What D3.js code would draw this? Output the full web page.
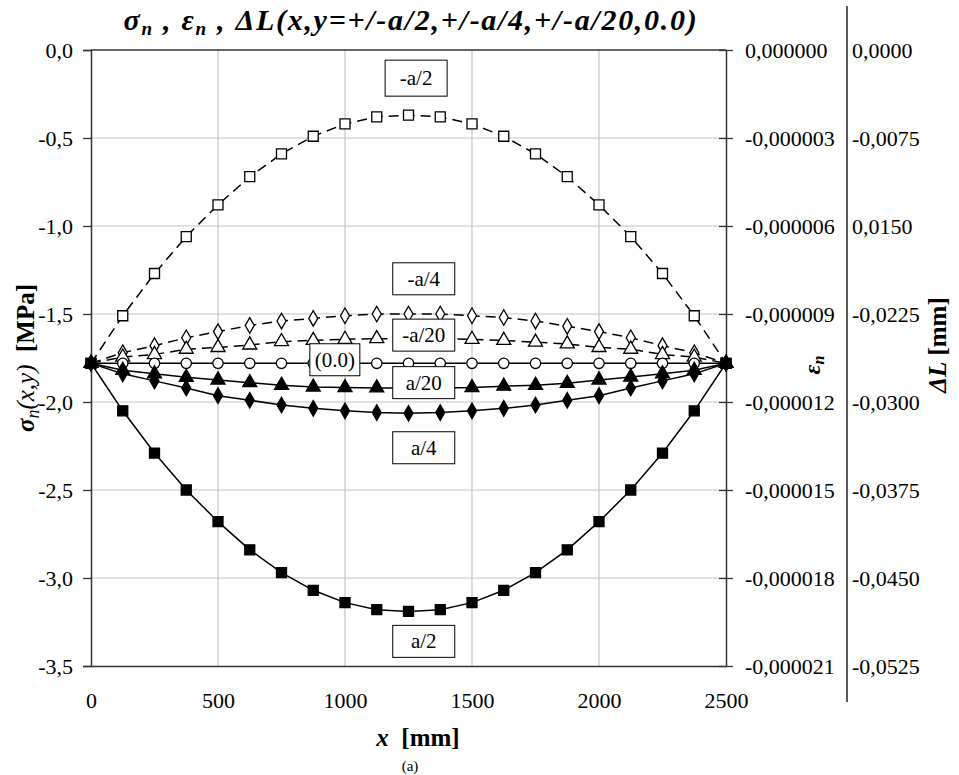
<!DOCTYPE html>
<html><head><meta charset="utf-8">
<script src="https://cdn.jsdelivr.net/npm/d3@7"></script>
<style>
body{margin:0;background:#fff;}
svg text{font-family:'Liberation Serif','Times New Roman','DejaVu Serif',serif !important;}
</style></head>
<body>
<svg id="c" width="959" height="775"></svg>
<script>
// ---- data ----
const xs = [0,125,250,375,500,625,750,875,1000,1125,1250,1375,1500,1625,1750,1875,2000,2125,2250,2375,2500];
const negA2  = [-1.78,-1.51,-1.27,-1.06,-0.88,-0.72,-0.59,-0.49,-0.42,-0.38,-0.37,-0.38,-0.42,-0.49,-0.59,-0.72,-0.88,-1.06,-1.27,-1.51,-1.78];
const negA4  = [-1.78,-1.72,-1.68,-1.635,-1.60,-1.565,-1.54,-1.525,-1.51,-1.50,-1.50,-1.50,-1.51,-1.52,-1.54,-1.57,-1.60,-1.635,-1.68,-1.72,-1.78];
const negA20 = [-1.78,-1.745,-1.73,-1.70,-1.69,-1.676,-1.657,-1.65,-1.644,-1.64,-1.64,-1.64,-1.644,-1.65,-1.66,-1.67,-1.69,-1.70,-1.73,-1.745,-1.78];
const zero   = [-1.78,-1.78,-1.78,-1.78,-1.78,-1.78,-1.78,-1.78,-1.78,-1.78,-1.78,-1.78,-1.78,-1.78,-1.78,-1.78,-1.78,-1.78,-1.78,-1.78,-1.78];
const posA20 = [-1.78,-1.82,-1.84,-1.86,-1.875,-1.89,-1.905,-1.915,-1.918,-1.92,-1.92,-1.92,-1.918,-1.91,-1.905,-1.894,-1.875,-1.858,-1.84,-1.82,-1.78];
const posA4  = [-1.78,-1.84,-1.88,-1.92,-1.964,-1.99,-2.017,-2.036,-2.05,-2.06,-2.064,-2.06,-2.05,-2.036,-2.017,-1.99,-1.964,-1.92,-1.88,-1.84,-1.78];
const posA2  = [-1.78,-2.05,-2.29,-2.50,-2.68,-2.84,-2.97,-3.07,-3.14,-3.18,-3.19,-3.18,-3.14,-3.07,-2.97,-2.84,-2.68,-2.50,-2.29,-2.05,-1.78];

const xTicks = [0,500,1000,1500,2000,2500];
const sigmaTicks = [0,-0.5,-1.0,-1.5,-2.0,-2.5,-3.0,-3.5];
const epsTicks = [0,-0.000003,-0.000006,-0.000009,-0.000012,-0.000015,-0.000018,-0.000021];
const epsLabels = ["0,000000","-0,000003","-0,000006","-0,000009","-0,000012","-0,000015","-0,000018","-0,000021"];
const dlTicks = [0,-0.0075,-0.015,-0.0225,-0.03,-0.0375,-0.045,-0.0525];
const dlLabels = ["0,0000","-0,0075","0,0150","-0,0225","-0,0300","-0,0375","-0,0450","-0,0525"];

const seriesNames = ["-a/2","-a/4","-a/20","(0.0)","a/20","a/4","a/2"];
const seriesValues = [negA2,negA4,negA20,zero,posA20,posA4,posA2];
const seriesDashed = [true,true,true,false,false,false,false];
const seriesMarker = ["square","diamond","triangle","circle","triangle","diamond","square"];
const seriesFilled = [false,false,false,false,true,true,true];
// label anchor (x in mm, y in MPa) for the boxed series names
const labelX = [1280,1310,1310,960,1310,1310,1310];
const labelY = [-0.16,-1.30,-1.62,-1.76,-1.89,-2.26,-3.36];

// ---- layout ----
const FONT = "'Liberation Serif','Times New Roman','DejaVu Serif',serif";
const svg = d3.select("#c");
const L = 91, R = 726, T = 50, B = 666;
const x = d3.scaleLinear().domain([0,2500]).range([L,R]);
const y = d3.scaleLinear().domain([0,-3.5]).range([T,B]);
const yEps = d3.scaleLinear().domain([0,-0.000021]).range([T,B]);
const yDL = d3.scaleLinear().domain([0,-0.0525]).range([T,B]);

// grid
const grid = svg.append("g");
grid.selectAll("line.gx").data(xTicks.slice(1,-1)).enter().append("line")
  .attr("x1",d=>x(d)).attr("x2",d=>x(d)).attr("y1",T).attr("y2",B)
  .attr("stroke","#c4c4c4").attr("stroke-width",1.2);
grid.selectAll("line.gy").data(sigmaTicks.slice(1,-1)).enter().append("line")
  .attr("x1",L).attr("x2",R).attr("y1",d=>y(d)).attr("y2",d=>y(d))
  .attr("stroke","#c4c4c4").attr("stroke-width",1.2);
svg.append("line").attr("x1",L).attr("x2",R).attr("y1",T).attr("y2",T).attr("stroke","#333").attr("stroke-width",1.3);

// axes
const fmt = d => d3.format(".1f")(d).replace(".",",").replace("−","-");
const gl = svg.append("g").attr("transform",`translate(${L},0)`)
  .call(d3.axisLeft(y).tickValues(sigmaTicks).tickFormat(fmt).tickSizeOuter(0).tickSize(8).tickPadding(10));
const gb = svg.append("g").attr("transform",`translate(0,${B})`)
  .call(d3.axisBottom(x).tickValues(xTicks).tickFormat(d3.format("d")).tickSize(0).tickSizeOuter(0).tickPadding(26));
const gr = svg.append("g").attr("transform",`translate(${R},0)`)
  .call(d3.axisRight(yEps).tickValues(epsTicks).tickFormat((d,i)=>epsLabels[i]).tickSize(7).tickSizeOuter(0).tickPadding(12));
const gr2 = svg.append("g").attr("transform",`translate(847,0)`)
  .call(d3.axisRight(yDL).tickValues(dlTicks).tickFormat((d,i)=>dlLabels[i]).tickSize(0).tickSizeOuter(0).tickPadding(5));
gr2.select(".domain").remove();
svg.append("line").attr("x1",847).attr("x2",847).attr("y1",6).attr("y2",702).attr("stroke","#000").attr("stroke-width",1.3);
[gl,gb,gr,gr2].forEach(g=>{
  g.attr("font-family",FONT).attr("font-size",22);
  g.selectAll("text").attr("font-size",22).style("font-size","22px").style("font-family",FONT).attr("fill","#000");
  g.select(".domain").attr("stroke","#333").attr("stroke-width",1.5);
  g.selectAll(".tick line").attr("stroke","#333").attr("stroke-width",1.3);
});
gr.selectAll(".tick line").attr("x1",-7);

// lines & markers
const line = d3.line().x((d,i)=>x(xs[i])).y(d=>y(d));
seriesValues.forEach((vals,k)=>{
  svg.append("path").datum(vals).attr("d",line)
    .attr("fill","none").attr("stroke","#000").attr("stroke-width",1.5)
    .attr("stroke-dasharray",seriesDashed[k]?"10,6":null);
});
const symType = {square:d3.symbolSquare, diamond:d3.symbolDiamond, triangle:d3.symbolTriangle, circle:d3.symbolCircle};
const symSize = {square:100, diamond:70, triangle:85, circle:85};
seriesValues.forEach((vals,k)=>{
  const m = seriesMarker[k];
  const sym = d3.symbol().type(symType[m]).size(symSize[m]);
  svg.append("g").selectAll("path").data(vals).enter().append("path")
    .attr("d",sym)
    .attr("transform",(d,i)=>`translate(${x(xs[i])},${y(d)})`)
    .attr("fill",seriesFilled[k]?"#000":"#fff")
    .attr("stroke","#000").attr("stroke-width",1.3);
});

// boxed series labels
seriesNames.forEach((nm,k)=>{
  const cx = x(labelX[k]), cy = y(labelY[k]);
  const w = nm==="(0.0)"?50:62, h = k===0?36:32;
  svg.append("rect").attr("x",cx-w/2).attr("y",cy-h/2).attr("width",w).attr("height",h)
    .attr("fill","#fff").attr("stroke","#000").attr("stroke-width",1);
  svg.append("text").attr("x",cx).attr("y",cy+7).attr("text-anchor","middle")
    .attr("font-size",21).style("font-family",FONT).text(nm);
});

// title
const tt = svg.append("text").attr("x",411).attr("y",30).attr("text-anchor","middle")
  .attr("font-size",30).attr("font-weight","bold").attr("font-style","italic").style("font-family",FONT);
tt.append("tspan").text("σ");
tt.append("tspan").attr("font-size",19).attr("dy",5).text("n");
tt.append("tspan").attr("dy",-5).text(" , ε");
tt.append("tspan").attr("font-size",19).attr("dy",5).text("n");
tt.append("tspan").attr("dy",-5).text(" , ΔL(x,y=+/-a/2,+/-a/4,+/-a/20,0.0)");
{
  const w = tt.node().getComputedTextLength();
  const n = tt.text().length;
  if (w > 0 && w < 575) tt.attr("letter-spacing", ((575 - w) / n).toFixed(2));
}

// left axis label
const yl = svg.append("text").attr("transform","translate(34,358) rotate(-90)").attr("text-anchor","middle")
  .attr("font-size",25).style("font-family",FONT);
yl.append("tspan").attr("font-weight","bold").attr("font-style","italic").text("σ");
yl.append("tspan").attr("font-style","italic").attr("font-size",18).attr("dy",5).text("n");
yl.append("tspan").attr("font-style","italic").attr("dy",-5).text("(x,y)");
yl.append("tspan").attr("font-weight","bold").text("\u00a0 [MPa]");

// right axis labels
const el = svg.append("text").attr("transform","translate(820,365) rotate(-90)").attr("text-anchor","middle")
  .attr("font-size",24).attr("font-weight","bold").attr("font-style","italic").style("font-family",FONT);
el.append("tspan").text("ε");
el.append("tspan").attr("font-size",16).attr("dy",4).text("n");
const dl = svg.append("text").attr("transform","translate(946,345) rotate(-90)").attr("text-anchor","middle")
  .attr("font-size",25).attr("font-weight","bold").style("font-family",FONT);
dl.append("tspan").attr("font-style","italic").text("ΔL");
dl.append("tspan").text(" [mm]");

// x axis label
const xl = svg.append("text").attr("x",418).attr("y",746).attr("text-anchor","middle")
  .attr("font-size",25).attr("font-weight","bold").style("font-family",FONT);
xl.append("tspan").attr("font-style","italic").text("x");
xl.append("tspan").text("\u00a0 [mm]");
svg.append("text").attr("x",410).attr("y",771).attr("text-anchor","middle").attr("font-size",15).style("font-family",FONT).text("(a)");
</script>
</body></html>
